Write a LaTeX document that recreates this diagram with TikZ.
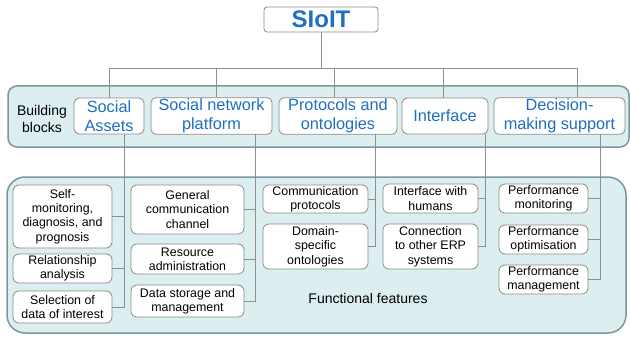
\documentclass[tikz,border=0pt]{standalone}
\usepackage{fontspec}
\setmainfont{Liberation Sans}
\definecolor{panelfill}{HTML}{DCEEF0}
\definecolor{paneldraw}{HTML}{7A989D}
\definecolor{boxdraw}{HTML}{8A8A8A}
\definecolor{linecol}{HTML}{8F8F8F}
\definecolor{bluetext}{HTML}{1F6FC2}
\begin{document}
\begin{tikzpicture}[x=1pt,y=-1pt,
  panel/.style={draw=paneldraw,fill=panelfill,line width=1.5pt},
  bbox/.style={draw=boxdraw,fill=white,rounded corners=5pt,line width=0.8pt,inner sep=1pt,align=center,
    text=bluetext,font=\fontsize{16.3}{19.5}\selectfont},
  fbox/.style={draw=boxdraw,fill=white,rounded corners=6pt,line width=0.8pt,inner sep=1pt,align=center,
    font=\fontsize{12.4}{14.4}\selectfont},
  conn/.style={draw=linecol,line width=0.8pt},
  lbl/.style={align=center,font=\fontsize{14}{17}\selectfont}]
\useasboundingbox (0,0) rectangle (630,337);
% panels
\draw[panel,rounded corners=9pt] (8,86) rectangle (629,147);
\draw[panel,rounded corners=18pt] (7,177) rectangle (626,333);
% top node
\node[draw=boxdraw,fill=white,rounded corners=3pt,line width=0.8pt,minimum width=114pt,minimum height=25pt,
  text=bluetext,font=\fontsize{24}{28}\selectfont\bfseries] (sioit) at (321,19.5) {SIoIT};
% building blocks
\node[lbl] (bb) at (42,118.5) {Building\\blocks};
\node[bbox,minimum width=70pt,minimum height=36pt] (sa) at (109,116) {Social\\Assets};
\node[bbox,minimum width=121pt,minimum height=36pt] (snp) at (211.5,116) {Social network\\platform};
\node[bbox,minimum width=118pt,minimum height=36pt] (pro) at (338,116) {Protocols and\\ontologies};
\node[bbox,minimum width=86pt,minimum height=36pt] (int) at (445,116) {Interface};
\node[bbox,minimum width=131pt,minimum height=36pt] (dms) at (559.5,116) {Decision-\\making support};
% tree connectors
\coordinate (t0) at (321,68);
\coordinate (t1) at (109,68);
\coordinate (t2) at (216,68);
\coordinate (t3) at (334,68);
\coordinate (t4) at (443,68);
\coordinate (t5) at (577,68);
\draw[conn] (sioit.south) -- (t0);
\draw[conn] (t1) -- (t5);
\draw[conn] (t1) -- (t1 |- sa.north);
\draw[conn] (t2) -- (t2 |- snp.north);
\draw[conn] (t3) -- (t3 |- pro.north);
\draw[conn] (t4) -- (t4 |- int.north);
\draw[conn] (t5) -- (t5 |- dms.north);
% functional feature boxes
\node[fbox,minimum width=99pt,minimum height=63pt] (sm) at (62.5,216.5) {Self-\\monitoring,\\diagnosis, and\\prognosis};
\node[fbox,minimum width=99pt,minimum height=29pt] (ra) at (62.5,268.5) {Relationship\\analysis};
\node[fbox,minimum width=99pt,minimum height=32pt] (sd) at (62.5,307) {Selection of\\data of interest};
\node[fbox,minimum width=113pt,minimum height=49pt] (gcc) at (187.5,209.5) {General\\communication\\channel};
\node[fbox,minimum width=113pt,minimum height=30pt] (rad) at (187.5,259) {Resource\\administration};
\node[fbox,minimum width=113pt,minimum height=32pt] (ds) at (187.5,301) {Data storage and\\management};
\node[fbox,minimum width=105pt,minimum height=28pt] (cp) at (315.5,199) {Communication\\protocols};
\node[fbox,minimum width=105pt,minimum height=45pt] (dso) at (315.5,246.5) {Domain-\\specific\\ontologies};
\node[fbox,minimum width=95pt,minimum height=29pt] (iwh) at (430.5,198.5) {Interface with\\humans};
\node[fbox,minimum width=95pt,minimum height=45pt] (cerp) at (430.5,246.5) {Connection\\to other ERP\\systems};
\node[fbox,minimum width=89pt,minimum height=29pt] (pm) at (543.5,198.5) {Performance\\monitoring};
\node[fbox,minimum width=89pt,minimum height=29pt] (po) at (543.5,239.5) {Performance\\optimisation};
\node[fbox,minimum width=89pt,minimum height=29pt] (pmg) at (543.5,279.5) {Performance\\management};
\node[lbl] (ff) at (368,298) {Functional features};
% down connectors
\coordinate (d1) at (124,134);
\coordinate (d2) at (255,134);
\coordinate (d3) at (375,134);
\coordinate (d4) at (485,134);
\coordinate (d5) at (600,134);
\draw[conn] (d1) -- (d1 |- sd.east) -- (sd.east);
\draw[conn] (sm.east) -- (sm.east -| d1);
\draw[conn] (ra.east) -- (ra.east -| d1);
\draw[conn] (d2) -- (d2 |- ds.east) -- (ds.east);
\draw[conn] (gcc.east) -- (gcc.east -| d2);
\draw[conn] (rad.east) -- (rad.east -| d2);
\draw[conn] (d3) -- (d3 |- dso.east) -- (dso.east);
\draw[conn] (cp.east) -- (cp.east -| d3);
\draw[conn] (d4) -- (d4 |- cerp.east) -- (cerp.east);
\draw[conn] (iwh.east) -- (iwh.east -| d4);
\draw[conn] (d5) -- (d5 |- pmg.east) -- (pmg.east);
\draw[conn] (pm.east) -- (pm.east -| d5);
\draw[conn] (po.east) -- (po.east -| d5);
\end{tikzpicture}
\end{document}
